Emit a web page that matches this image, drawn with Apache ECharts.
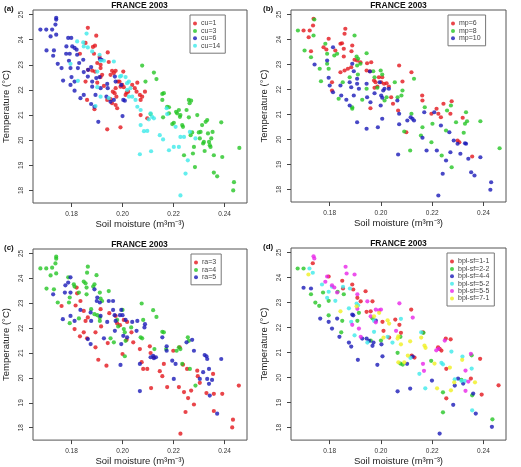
<!DOCTYPE html>
<html>
<head>
<meta charset="utf-8">
<script src="https://cdn.jsdelivr.net/npm/echarts@6/dist/echarts.min.js"></script>
<style>
  html, body { margin: 0; padding: 0; background: #fff; }
  #chart { width: 521px; height: 467px; }
</style>
</head>
<body>
<div id="chart"></div>
<script>
// tick values shared by all four panels
const xTicks = [0.18, 0.20, 0.22, 0.24];
const yTicks = [18, 19, 20, 21, 22, 23, 24, 25];

// panel (a) - cu
const cu1 = [[0.1864,24.47],[0.1897,24.16],[0.1855,23.87],[0.1884,23.71],[0.1892,23.76],[0.1833,23.44],[0.1888,23.44],[0.1910,23.31],[0.1901,23.07],[0.1865,22.80],[0.1881,22.77],[0.1914,23.00],[0.1914,22.87],[0.1946,23.11],[0.1942,23.49],[0.1901,22.29],[0.1855,22.33],[0.1914,22.51],[0.1920,22.60],[0.1927,22.16],[0.1953,22.60],[0.1959,22.76],[0.1973,22.76],[0.1966,22.67],[0.1962,21.93],[0.1973,22.07],[0.1969,21.87],[0.1976,21.73],[0.1979,21.27],[0.1973,21.40],[0.1953,21.63],[0.1940,21.60],[0.1959,21.47],[0.1982,22.33],[0.1988,22.33],[0.1992,22.13],[0.1999,22.20],[0.2003,22.73],[0.2005,22.11],[0.2012,21.80],[0.2016,21.89],[0.2022,21.93],[0.2038,22.20],[0.2048,22.07],[0.2058,22.29],[0.2055,21.93],[0.2068,21.80],[0.2071,21.60],[0.2077,21.73],[0.2088,21.93],[0.2097,20.87],[0.2071,21.00],[0.1992,20.51],[0.1940,20.43],[0.1890,21.23],[0.1861,21.60],[0.1892,22.73]];
const cu3 = [[0.2077,22.97],[0.2090,22.33],[0.2110,21.04],[0.2123,22.69],[0.2133,22.43],[0.2156,21.84],[0.2162,21.87],[0.2156,21.60],[0.2159,20.91],[0.2175,21.33],[0.2182,21.07],[0.2195,20.64],[0.2201,20.69],[0.2214,21.07],[0.2210,21.13],[0.2221,21.20],[0.2225,20.93],[0.2227,21.00],[0.2234,20.60],[0.2237,20.53],[0.2241,19.40],[0.2251,21.20],[0.2260,21.60],[0.2269,21.57],[0.2263,21.47],[0.2260,20.91],[0.2267,20.20],[0.2273,20.31],[0.2280,19.73],[0.2276,19.47],[0.2284,18.93],[0.2293,21.00],[0.2299,20.31],[0.2303,20.07],[0.2306,20.33],[0.2312,20.60],[0.2319,19.93],[0.2322,19.57],[0.2326,20.73],[0.2332,20.80],[0.2335,20.27],[0.2339,19.93],[0.2342,19.80],[0.2348,20.07],[0.2353,20.33],[0.2358,19.40],[0.2358,18.71],[0.2371,18.56],[0.2387,20.71],[0.2391,19.33],[0.2437,18.33],[0.2434,18.00],[0.2458,19.69],[0.2182,21.31],[0.2345,19.73],[0.2316,19.87]];
const cu6 = [[0.1678,24.40],[0.1701,24.40],[0.1724,24.40],[0.1740,24.87],[0.1740,24.80],[0.1737,24.60],[0.1718,24.13],[0.1740,24.20],[0.1702,23.57],[0.1731,23.57],[0.1728,23.36],[0.1746,23.04],[0.1761,22.87],[0.1767,22.37],[0.1787,24.07],[0.1799,24.07],[0.1780,23.73],[0.1779,23.44],[0.1793,23.44],[0.1790,23.16],[0.1796,22.87],[0.1803,23.73],[0.1812,23.67],[0.1820,23.60],[0.1800,22.51],[0.1796,22.20],[0.1812,22.33],[0.1812,21.97],[0.1822,23.40],[0.1825,22.87],[0.1830,23.07],[0.1846,23.20],[0.1848,22.71],[0.1835,21.67],[0.1848,21.80],[0.1864,22.53],[0.1865,22.80],[0.1877,22.91],[0.1881,22.33],[0.1881,22.13],[0.1877,21.44],[0.1890,21.33],[0.1894,21.80],[0.1897,22.47],[0.1911,23.23],[0.1910,22.51],[0.1914,22.07],[0.1905,20.73],[0.1918,23.20],[0.1940,22.24],[0.1942,22.07],[0.1937,21.73],[0.1953,21.53],[0.1970,22.53],[0.1973,22.33],[0.1966,21.60],[0.1995,22.20],[0.2003,21.60],[0.2009,21.57],[0.2000,20.96]];
const cu14 = [[0.1859,24.24],[0.1864,23.69],[0.1846,23.89],[0.1881,23.53],[0.1910,23.40],[0.1914,23.16],[0.1927,23.16],[0.1901,22.73],[0.1901,22.11],[0.1894,21.36],[0.1966,23.13],[0.1990,22.53],[0.1995,22.56],[0.2012,22.51],[0.2018,22.27],[0.2025,22.33],[0.2018,22.00],[0.2031,22.07],[0.2025,21.73],[0.2038,21.73],[0.2051,21.60],[0.2058,21.33],[0.2071,21.20],[0.2071,20.60],[0.2084,20.36],[0.2097,20.37],[0.2103,20.83],[0.2110,21.07],[0.2123,20.87],[0.2116,20.93],[0.2068,19.44],[0.2112,19.56],[0.2146,20.20],[0.2159,20.03],[0.2173,21.27],[0.2175,21.04],[0.2182,19.60],[0.2201,19.73],[0.2208,20.53],[0.2221,19.73],[0.2227,20.13],[0.2241,20.13],[0.2247,18.67],[0.2256,19.20],[0.2264,20.33],[0.2286,20.07],[0.2227,17.80],[0.1796,23.04],[0.1825,22.36],[0.1914,21.73],[0.1946,21.67],[0.1822,23.93],[0.1848,23.73]];

// panel (b) - mp
const mp6 = [[0.1698,24.36],[0.1722,24.36],[0.1735,24.56],[0.1737,24.83],[0.1718,24.09],[0.1727,23.53],[0.1776,23.69],[0.1796,24.03],[0.1787,23.60],[0.1822,23.56],[0.1809,22.29],[0.1809,21.96],[0.1842,23.83],[0.1848,23.85],[0.1861,24.43],[0.1858,24.23],[0.1855,23.63],[0.1855,23.32],[0.1842,22.69],[0.1858,22.76],[0.1871,22.83],[0.1884,22.89],[0.1888,23.76],[0.1885,23.53],[0.1897,23.19],[0.1907,23.16],[0.1920,23.09],[0.1946,23.05],[0.1962,23.09],[0.1957,22.73],[0.1973,22.36],[0.1979,22.29],[0.1975,22.07],[0.1986,22.12],[0.1992,22.49],[0.2001,22.29],[0.2005,22.49],[0.2012,22.23],[0.2022,22.25],[0.2031,22.12],[0.2040,21.69],[0.2047,21.43],[0.2067,21.16],[0.2071,22.96],[0.2084,22.32],[0.2099,20.29],[0.2119,22.69],[0.2162,21.56],[0.2161,21.76],[0.2197,21.03],[0.2217,21.23],[0.2224,21.03],[0.2234,20.89],[0.2244,21.43],[0.2271,21.03],[0.2276,21.53],[0.2299,19.96],[0.2306,19.89],[0.2319,20.87],[0.2356,19.32],[0.1959,21.25],[0.1944,22.76]];
const mp8 = [[0.1676,24.36],[0.1702,23.56],[0.1727,23.29],[0.1737,24.16],[0.1740,24.80],[0.1761,22.83],[0.1766,22.33],[0.1783,23.83],[0.1790,23.43],[0.1790,23.03],[0.1796,22.83],[0.1818,23.36],[0.1829,23.43],[0.1835,21.63],[0.1851,22.29],[0.1878,22.49],[0.1888,21.29],[0.1888,21.23],[0.1897,24.16],[0.1905,23.32],[0.1911,23.23],[0.1907,22.96],[0.1910,22.60],[0.1920,23.03],[0.1927,21.59],[0.1944,23.45],[0.1944,22.03],[0.1970,22.73],[0.1975,22.49],[0.1986,22.07],[0.1999,22.76],[0.2005,22.60],[0.2014,21.56],[0.2022,21.69],[0.2054,22.29],[0.2065,21.69],[0.2080,21.76],[0.2084,21.96],[0.2091,20.32],[0.2119,21.03],[0.2114,19.56],[0.2129,22.43],[0.2156,20.16],[0.2162,20.49],[0.2171,21.29],[0.2197,19.89],[0.2201,20.63],[0.2237,19.36],[0.2258,21.16],[0.2254,20.36],[0.2276,18.89],[0.2293,20.69],[0.2323,20.27],[0.2328,20.63],[0.2332,21.09],[0.2388,20.73],[0.2463,19.65],[0.2336,20.73],[0.2273,21.36]];
const mp10 = [[0.1741,23.00],[0.1790,23.16],[0.1796,22.47],[0.1800,22.16],[0.1813,23.69],[0.1813,21.89],[0.1842,22.16],[0.1845,21.76],[0.1865,21.59],[0.1878,22.29],[0.1884,22.09],[0.1888,23.03],[0.1894,22.73],[0.1878,21.36],[0.1907,22.43],[0.1907,22.23],[0.1914,22.03],[0.1907,20.69],[0.1894,21.76],[0.1944,22.23],[0.1946,21.69],[0.1957,22.72],[0.1959,21.49],[0.1944,20.43],[0.1975,21.85],[0.1995,22.29],[0.2001,21.76],[0.2005,21.67],[0.2009,21.96],[0.2014,22.03],[0.1999,21.36],[0.1988,20.49],[0.2005,20.83],[0.2031,22.03],[0.2064,21.56],[0.2071,21.03],[0.2071,20.61],[0.2067,19.40],[0.2103,20.76],[0.2116,20.89],[0.2123,20.83],[0.2129,20.76],[0.2162,20.07],[0.2169,21.09],[0.2178,19.56],[0.2208,21.09],[0.2218,19.56],[0.2234,20.56],[0.2241,18.63],[0.2254,19.16],[0.2267,20.29],[0.2271,19.49],[0.2284,19.96],[0.2299,19.83],[0.2310,19.43],[0.2328,19.85],[0.2332,19.83],[0.2341,19.23],[0.2352,18.69],[0.2365,18.56],[0.2388,19.29],[0.2430,18.29],[0.2427,17.99],[0.2224,17.76]];

// panel (c) - ra
const ra3 = [[0.1761,22.89],[0.1820,23.63],[0.1822,23.40],[0.1835,23.09],[0.1816,22.91],[0.1812,21.96],[0.1833,21.67],[0.1848,22.69],[0.1855,22.29],[0.1848,21.83],[0.1861,21.59],[0.1894,21.23],[0.1894,21.83],[0.1905,20.73],[0.1914,22.76],[0.1916,22.07],[0.1937,20.49],[0.1942,21.40],[0.1948,22.60],[0.1973,22.49],[0.1979,22.19],[0.1990,22.12],[0.2000,20.96],[0.2005,22.33],[0.2016,21.53],[0.2018,22.25],[0.2035,21.83],[0.2042,21.43],[0.2068,21.16],[0.2075,20.63],[0.2081,20.36],[0.2097,20.36],[0.2107,21.27],[0.2110,21.00],[0.2112,19.59],[0.2123,20.83],[0.2146,20.27],[0.2156,20.07],[0.2162,20.56],[0.2175,19.63],[0.2199,21.09],[0.2221,19.63],[0.2224,21.23],[0.2237,20.53],[0.2241,19.43],[0.2247,18.63],[0.2253,20.36],[0.2257,19.19],[0.2227,17.76],[0.2269,19.49],[0.2280,18.93],[0.2293,20.29],[0.2295,20.07],[0.2303,19.80],[0.2329,19.39],[0.2355,20.16],[0.2358,19.36],[0.2358,18.67],[0.2391,19.36],[0.2433,18.32],[0.2430,18.01],[0.2456,19.69],[0.1864,22.43]];
const ra4 = [[0.1678,24.40],[0.1701,24.40],[0.1724,24.43],[0.1740,24.87],[0.1740,24.79],[0.1737,24.60],[0.1718,24.12],[0.1740,24.20],[0.1702,23.59],[0.1731,23.56],[0.1746,23.03],[0.1787,24.04],[0.1793,23.23],[0.1790,23.03],[0.1793,22.20],[0.1809,23.76],[0.1812,23.67],[0.1829,23.43],[0.1829,22.39],[0.1848,23.87],[0.1855,23.80],[0.1859,23.36],[0.1864,24.47],[0.1861,24.23],[0.1859,23.63],[0.1877,22.76],[0.1885,23.67],[0.1890,23.76],[0.1898,24.13],[0.1890,22.56],[0.1901,22.52],[0.1911,23.43],[0.1914,23.19],[0.1920,23.09],[0.1911,22.29],[0.1911,22.43],[0.1946,23.49],[0.1953,21.59],[0.1966,21.43],[0.1979,22.33],[0.1983,22.07],[0.2000,22.73],[0.2005,21.96],[0.2009,21.83],[0.2012,21.49],[0.2009,20.87],[0.2034,22.03],[0.2071,21.63],[0.2077,21.59],[0.2075,22.99],[0.2081,22.33],[0.2120,22.72],[0.2133,22.45],[0.2125,21.16],[0.2156,21.85],[0.2162,21.83],[0.2171,21.16],[0.2212,21.09],[0.2221,21.23],[0.2227,21.16],[0.2234,20.56],[0.2256,21.63],[0.2260,21.49],[0.2264,20.36],[0.2286,19.69]];
const ra5 = [[0.1728,23.36],[0.1766,22.36],[0.1776,23.72],[0.1787,23.83],[0.1796,24.04],[0.1774,23.43],[0.1796,23.43],[0.1796,22.49],[0.1812,22.29],[0.1835,22.73],[0.1864,21.56],[0.1875,22.63],[0.1875,21.36],[0.1877,22.29],[0.1890,23.56],[0.1899,23.09],[0.1901,23.23],[0.1911,23.03],[0.1914,22.49],[0.1927,21.59],[0.1940,22.25],[0.1946,23.09],[0.1963,23.09],[0.1963,22.73],[0.1969,22.52],[0.1973,22.29],[0.1970,21.89],[0.1990,22.52],[0.1995,22.73],[0.2000,22.52],[0.2003,21.69],[0.1995,21.36],[0.1992,20.52],[0.2012,22.33],[0.2018,21.63],[0.2038,22.25],[0.2055,21.89],[0.2058,22.29],[0.2068,20.56],[0.2068,19.47],[0.2086,22.03],[0.2088,22.16],[0.2110,20.83],[0.2120,20.89],[0.2123,20.79],[0.2131,20.83],[0.2156,21.63],[0.2173,21.27],[0.2173,21.09],[0.2195,20.69],[0.2208,20.56],[0.2201,19.96],[0.2251,21.43],[0.2273,21.53],[0.2280,21.09],[0.2303,19.96],[0.2316,20.23],[0.2322,20.92],[0.2329,20.87],[0.2332,19.96],[0.2339,19.76],[0.2332,20.76],[0.2339,20.36],[0.2342,19.29],[0.2351,19.92],[0.2371,18.56],[0.2387,20.76]];

// panel (d) - bpl-sf
const bpl11 = [[0.1734,24.57],[0.1796,24.04],[0.1849,23.87],[0.1852,23.56],[0.1888,23.72],[0.1892,23.52],[0.1908,23.19],[0.1921,23.05],[0.1940,23.45],[0.1944,22.63],[0.1967,23.05],[0.1960,22.65],[0.2006,22.23],[0.2010,21.87],[0.2032,21.60],[0.2056,22.32],[0.2072,22.11],[0.2078,21.79],[0.2118,22.72],[0.2120,20.88],[0.2131,20.80],[0.2164,21.81],[0.2223,21.21],[0.2229,21.15],[0.2236,21.08],[0.2255,20.35],[0.2255,19.17],[0.2253,21.56],[0.2272,21.53],[0.2351,19.96],[0.2387,20.75],[0.2459,19.69],[0.2393,19.32]];
const bpl22 = [[0.1675,24.36],[0.1698,24.36],[0.1727,23.33],[0.1744,23.00],[0.1759,22.87],[0.1774,23.40],[0.1796,23.07],[0.1796,22.49],[0.1831,23.43],[0.1855,23.33],[0.1849,22.27],[0.1845,21.81],[0.1908,22.27],[0.1914,22.59],[0.1960,21.48],[0.1967,22.37],[0.2000,21.48],[0.2065,20.99],[0.2076,20.56],[0.2076,21.63],[0.2085,20.52],[0.2166,21.79],[0.2196,20.67],[0.2242,19.41],[0.2242,18.61],[0.2314,19.91],[0.2354,20.89],[0.2356,19.29],[0.2435,18.33]];
const bpl44 = [[0.1698,23.59],[0.1727,23.56],[0.1763,22.36],[0.1796,22.23],[0.1809,21.96],[0.1829,22.36],[0.1838,21.63],[0.1875,21.40],[0.1884,21.24],[0.1888,22.52],[0.1892,22.49],[0.1910,20.71],[0.1927,21.56],[0.1944,21.56],[0.1954,21.47],[0.1967,21.27],[0.1971,21.40],[0.1986,20.51],[0.1980,22.28],[0.2002,21.33],[0.2006,20.85],[0.2065,19.45],[0.2102,20.55],[0.2114,19.56],[0.2124,20.84],[0.2199,19.88],[0.2288,19.68],[0.2282,18.91],[0.2301,19.96],[0.2321,19.76],[0.2360,19.36],[0.2370,18.56],[0.2433,18.03],[0.2229,17.76]];
const bpl52 = [[0.1721,24.36],[0.1734,24.19],[0.1770,23.72],[0.1796,23.43],[0.1790,23.19],[0.1809,23.63],[0.1822,23.07],[0.1852,23.63],[0.1879,23.56],[0.1875,22.77],[0.1884,22.23],[0.1897,21.69],[0.1905,22.96],[0.1911,22.89],[0.1947,21.40],[0.1973,21.83],[0.1973,22.27],[0.2026,21.63],[0.2045,21.40],[0.2078,22.35],[0.2115,20.79],[0.2150,20.15],[0.2157,21.81],[0.2173,19.57],[0.2236,20.59],[0.2242,20.53],[0.2275,21.04],[0.2288,19.93],[0.2314,19.87],[0.2318,20.84],[0.2328,19.87],[0.2354,20.36],[0.2356,18.69]];
const bpl55 = [[0.1737,24.85],[0.1740,24.76],[0.1783,23.83],[0.1790,24.04],[0.1809,23.69],[0.1818,23.60],[0.1829,23.40],[0.1862,24.43],[0.1866,24.16],[0.1888,22.11],[0.1897,24.12],[0.1908,23.33],[0.1908,22.75],[0.1914,21.96],[0.1947,23.05],[0.1960,22.45],[0.1980,22.21],[0.1980,22.72],[0.1993,22.69],[0.2000,22.72],[0.2059,21.87],[0.2072,22.97],[0.2124,22.40],[0.2164,20.55],[0.2168,20.27],[0.2216,21.09],[0.2225,21.15],[0.2249,21.48],[0.2330,20.28],[0.2351,20.95],[0.2341,19.84],[0.2330,19.47],[0.1921,21.63]];
const bpl71 = [[0.1717,24.12],[0.1842,22.65],[0.1905,22.85],[0.1973,22.45],[0.1993,22.59],[0.2010,21.60],[0.2026,22.29],[0.2032,22.16],[0.2065,21.56],[0.2068,21.65],[0.2078,21.33],[0.2105,20.88],[0.2091,20.61],[0.2068,20.61],[0.2114,21.45],[0.2157,21.60],[0.2170,21.28],[0.2174,21.19],[0.2209,20.56],[0.2219,19.57],[0.2269,20.40],[0.2273,19.49],[0.2286,19.81],[0.2367,19.81],[0.2317,20.71]];

const RED = '#e3171d', GREEN = '#26c526', BLUE = '#1a1ab8',
      CYAN = '#3deaea', MAGENTA = '#e825e8', YELLOW = '#f0f020';
const FONT = '"Liberation Sans", Arial, sans-serif';

const panels = [
  { tag: '(a)', grid: { left: 32, top: 10, width: 215, height: 193 }, legend: { left: 190, top: 15 },
    groups: [['cu=1', cu1, RED], ['cu=3', cu3, GREEN], ['cu=6', cu6, BLUE], ['cu=14', cu14, CYAN]] },
  { tag: '(b)', grid: { left: 291, top: 10, width: 215, height: 192 }, legend: { left: 448, top: 15 },
    groups: [['mp=6', mp6, RED], ['mp=8', mp8, GREEN], ['mp=10', mp10, BLUE]] },
  { tag: '(c)', grid: { left: 32, top: 249, width: 215, height: 193 }, legend: { left: 191, top: 254 },
    groups: [['ra=3', ra3, RED], ['ra=4', ra4, GREEN], ['ra=5', ra5, BLUE]] },
  { tag: '(d)', grid: { left: 291, top: 248, width: 215, height: 193 }, legend: { left: 447, top: 253 },
    groups: [['bpl-sf=1-1', bpl11, RED], ['bpl-sf=2-2', bpl22, GREEN], ['bpl-sf=4-4', bpl44, BLUE],
             ['bpl-sf=5-2', bpl52, CYAN], ['bpl-sf=5-5', bpl55, MAGENTA], ['bpl-sf=7-1', bpl71, YELLOW]] }
];

const grids = [], xAxes = [], yAxes = [], series = [], legends = [], titles = [];

panels.forEach(function (p, i) {
  grids.push(Object.assign({ show: true, borderColor: '#555', borderWidth: 1, backgroundColor: 'transparent' }, p.grid));
  xAxes.push({
    type: 'value', gridIndex: i, min: 0.1649, max: 0.2488,
    name: 'Soil moisture (m³m⁻³)', nameLocation: 'middle', nameGap: 15,
    nameTextStyle: { fontFamily: FONT, fontSize: 9.5, color: '#222' },
    axisLine: { show: false }, splitLine: { show: false },
    axisTick: { show: true, customValues: xTicks, length: 4, lineStyle: { color: '#444' } },
    axisLabel: { customValues: xTicks, formatter: v => v.toFixed(2), fontFamily: FONT, fontSize: 6.5, color: '#333', margin: 8 }
  });
  yAxes.push({
    type: 'value', gridIndex: i, min: 17.5, max: 25.18,
    name: 'Temperature (°C)', nameLocation: 'middle', nameGap: 22,
    nameTextStyle: { fontFamily: FONT, fontSize: 9.5, color: '#222' },
    axisLine: { show: false }, splitLine: { show: false },
    axisTick: { show: true, customValues: yTicks, length: 4, lineStyle: { color: '#444' } },
    axisLabel: { customValues: yTicks, rotate: 90, fontFamily: FONT, fontSize: 6.5, color: '#333', margin: 8 }
  });
  p.groups.forEach(function (g) {
    series.push({
      type: 'scatter', name: g[0], xAxisIndex: i, yAxisIndex: i, data: g[1],
      symbol: 'circle', symbolSize: 4.2, itemStyle: { color: g[2] }
    });
  });
  legends.push({
    data: p.groups.map(g => g[0]), orient: 'vertical', left: p.legend.left, top: p.legend.top,
    icon: 'circle', itemWidth: 4, itemHeight: 4, itemGap: 0.4,
    padding: [5, 5, 4, 3], borderColor: '#777', borderWidth: 1,
    textStyle: { fontFamily: FONT, fontSize: 7, color: '#444', padding: [0, 0, 0, -1] }
  });
  const cx = p.grid.left + p.grid.width / 2;
  titles.push({
    text: 'FRANCE 2003', left: cx, top: p.grid.top - 8.5, textAlign: 'center', padding: 0,
    textStyle: { fontFamily: FONT, fontSize: 8.5, fontWeight: 'bold', color: '#111' }
  });
  titles.push({
    text: p.tag, left: p.grid.left - 28, top: p.grid.top - 5, padding: 0,
    textStyle: { fontFamily: FONT, fontSize: 8, fontWeight: 'bold', color: '#111' }
  });
});

const myChart = echarts.init(document.getElementById('chart'));
myChart.setOption({
  animation: false,
  backgroundColor: '#fff',
  title: titles,
  legend: legends,
  grid: grids,
  xAxis: xAxes,
  yAxis: yAxes,
  series: series
});
</script>
</body>
</html>
